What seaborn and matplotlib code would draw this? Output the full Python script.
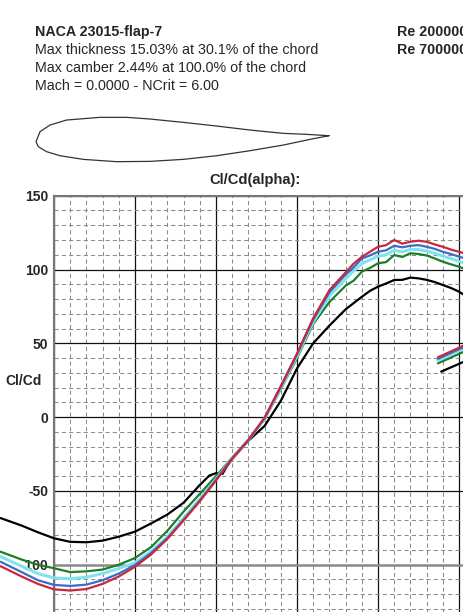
import matplotlib
matplotlib.use('Agg')
import matplotlib.pyplot as plt
import numpy as np
import pandas as pd
import seaborn as sns

# Curve values (alpha in degrees, Cl/Cd)
alpha = [-18.3, -17, -16, -15, -14, -13, -12, -11, -10, -9, -8, -7, -6, -5, -4,
         -3, -2, -1, 0, 1, 2, 3, 3.5, 4, 4.5, 5, 5.5, 6, 6.5, 7, 7.5, 8, 8.5,
         9, 9.5, 10, 11, 12]

clcd_red = [-101, -108, -113, -116.7, -117.5, -116.5, -113, -108, -101.4, -93,
            -82.5, -70, -57, -43, -28, -15.5, -0.5, 21, 43, 67, 86, 98, 104,
            108.5, 112, 115.4, 116.5, 120, 117.5, 118.8, 119.5, 118.8, 117,
            115.4, 113.5, 112, 109, 104]
clcd_blue = [-98, -105, -110.5, -113.7, -114.4, -113.5, -110.5, -106, -100.2,
             -92, -82, -69.5, -56.5, -42.5, -28, -15.5, -0.5, 20.5, 42.5, 66,
             84.5, 96.5, 101.5, 107.4, 109.5, 112, 113, 116.1, 115, 116.1,
             116.5, 115.4, 114, 112, 110.5, 108.7, 105.5, 101]
clcd_cyan = [-94.5, -101, -106, -109, -109.5, -108.5, -106, -102.5, -98.6, -91,
             -81, -68.5, -55.5, -42, -28, -15.5, -1, 20, 41.5, 64.5, 82, 93.5,
             99, 104, 106.5, 109, 110, 113, 112, 113.5, 113.5, 112.5, 111, 109,
             107.5, 105.5, 102, 97.5]
clcd_green = [-91.2, -96.5, -100, -102.4, -105, -104.5, -103.3, -100, -95.5,
              -88, -77, -64, -52, -40, -27.5, -15.5, -1.5, 19, 40, 63, 78, 89,
              92.5, 98.5, 101, 104.2, 105, 109.8, 108.5, 111, 110.5, 109.5,
              107.5, 105.3, 103.5, 101.9, 97.5, 93]
alpha_black = [-18.3, -17, -16, -15, -14, -13, -12, -11, -10, -9, -8, -7, -6,
               -5.4, -5, -4.6, -4.3, -4, -3, -2, -1, 0, 1, 2, 3, 4, 4.5, 5, 5.5,
               6, 6.5, 7, 7.5, 8, 8.5, 9, 9.5, 10, 11, 12]
clcd_black = [-68.4, -73.5, -78, -82.1, -84.5, -84.8, -83.7, -81, -77.6, -72,
              -66, -58, -46, -39.5, -38, -38.5, -33, -28.5, -16, -6, 11, 33,
              50, 62, 73, 81.5, 85.5, 88.4, 90.5, 92.9, 93, 94.5, 94, 93, 91.5,
              89.5, 87.5, 85, 78, 70]

# Short post-stall branches on the right
alpha_tail = [8.7, 10.3, 12]
tail_red = [40.5, 48.5, 57]
tail_blue = [39.5, 47.5, 56]
tail_cyan = [38.5, 46.5, 55]
tail_green = [36.4, 44.3, 52.5]
alpha_tail_black = [8.9, 10.3, 12]
tail_black = [30.8, 37.5, 45]

series = ['Re 50000', 'Re 100000', 'Re 200000', 'Re 500000', 'Re 1000000']
colors = ['#000000', '#1e7d2a', '#80e4ee', '#3a6cc8', '#c9283a']

# Airfoil outline (x/c, y/c)
foil_x = [1.0, 0.9238, 0.8441, 0.7304, 0.6166, 0.5028, 0.3891, 0.3094, 0.2184,
          0.1047, 0.0478, 0.0137, 0.0, 0.008, 0.0364, 0.0819, 0.1615, 0.2753,
          0.3891, 0.5028, 0.6166, 0.7304, 0.8441, 0.9352, 1.0]
foil_y = [0.0, 0.0046, 0.0080, 0.0193, 0.0330, 0.0455, 0.0569, 0.0626, 0.0626,
          0.0535, 0.0364, 0.0137, -0.0205, -0.0375, -0.0546, -0.0683, -0.0808,
          -0.0887, -0.0876, -0.0808, -0.0683, -0.0512, -0.0319, -0.0125, 0.0]

main = [clcd_black, clcd_green, clcd_cyan, clcd_blue, clcd_red]
tails = [tail_black, tail_green, tail_cyan, tail_blue, tail_red]
rows = []
for name, vals, tail in zip(series, main, tails):
    xs = alpha_black if name == series[0] else alpha
    xt = alpha_tail_black if name == series[0] else alpha_tail
    rows += [(name, 'main', a, v) for a, v in zip(xs, vals)]
    rows += [(name, 'tail', a, v) for a, v in zip(xt, tail)]
df = pd.DataFrame(rows, columns=['Re', 'branch', 'alpha', 'clcd'])

sns.set_style('white')
plt.rcParams['font.family'] = ['Liberation Sans', 'DejaVu Sans']
plt.rcParams['axes.unicode_minus'] = False

W, H = 463, 612
fig = plt.figure(figsize=(W / 100, H / 100), dpi=100)


def px(x0, y0, x1, y1):
    return [x0 / W, 1 - y1 / H, (x1 - x0) / W, (y1 - y0) / H]


# header text
FS = 10.3
fig.text(35 / W, 1 - 32 / H, 'NACA 23015-flap-7', fontsize=FS,
         fontweight='bold', va='center')
fig.text(35 / W, 1 - 50 / H, 'Max thickness 15.03% at 30.1% of the chord',
         fontsize=FS, va='center')
fig.text(35 / W, 1 - 68 / H, 'Max camber 2.44% at 100.0% of the chord',
         fontsize=FS, va='center')
fig.text(35 / W, 1 - 86 / H, 'Mach = 0.0000 - NCrit = 6.00', fontsize=FS,
         va='center')
fig.text(397 / W, 1 - 32 / H, 'Re 200000', fontsize=FS, fontweight='bold',
         va='center')
fig.text(397 / W, 1 - 50 / H, 'Re 700000', fontsize=FS, fontweight='bold',
         va='center')

# airfoil sketch
fax = fig.add_axes(px(36, 110, 329, 170))
fax.plot(foil_x, foil_y, color='#333333', lw=0.9, clip_on=False)
fax.set_xlim(0, 1)
fax.set_ylim((135.7 - 170) / 293, (135.7 - 110) / 293)
fax.axis('off')

fig.text(255 / W, 1 - 180 / H, 'Cl/Cd(alpha):', fontsize=10.6,
         fontweight='bold', ha='center', va='center')

# main chart, extends past the right and bottom edges like the crop
ax = fig.add_axes(px(54, 195.7, 540, 638.5))
ax.set_xlim(-15, 15)
ax.set_ylim(-150, 150)
ax.set_xticks(np.arange(-15, 16, 5))
ax.set_xticks(np.arange(-15, 16, 1), minor=True)
yticks = np.arange(-150, 151, 50)
ax.set_yticks(yticks)
ax.set_yticklabels(['' if t == -150 else str(t) for t in yticks],
                   fontweight='bold')
ax.set_yticks(np.arange(-150, 151, 10), minor=True)
ax.grid(which='major', color='#111111', lw=0.9, ls='-')
ax.grid(which='minor', color='#8c8c8c', lw=0.75, ls=(0, (4, 3)))
for tick, gl in zip(yticks, ax.yaxis.get_gridlines()):
    if tick == -100:
        gl.set_color('#8a8a8a')
        gl.set_linewidth(1.8)
ax.tick_params(which='both', length=0)
ax.tick_params(axis='y', pad=4, labelsize=10)
ax.set_xticklabels([])
for side in ['left', 'top']:
    ax.spines[side].set_color('#777777')
    ax.spines[side].set_linewidth(1.5)

sns.lineplot(data=df, x='alpha', y='clcd', hue='Re', units='branch',
             estimator=None, sort=False, hue_order=series,
             palette=dict(zip(series, colors)), lw=1.6, legend=False,
             clip_on=False, zorder=3, ax=ax)
for line in ax.get_lines():
    if line.get_color() == colors[2]:
        line.set_linewidth(2.2)

ax.set_xlabel('')
ax.set_ylabel('Cl/Cd', rotation=0, fontsize=10, fontweight='bold',
              ha='left', va='center')
ax.yaxis.set_label_coords(5 / 486 - 54 / 486, (381 - 638.5) / -442.8)

fig.savefig('out.png', dpi=100, facecolor='white')
